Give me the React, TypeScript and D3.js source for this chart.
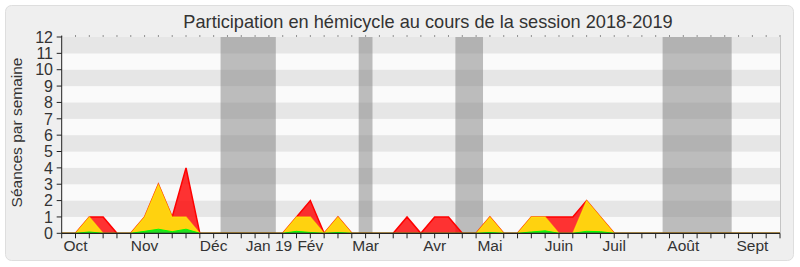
import React from "react";
import * as d3 from "d3";

const weeks: number[] = d3.range(0, 53);
// total sessions per week (red)
const presence: number[] = [
  0, 0, 1, 1, 0, 0, 1, 3, 1, 4, 0, 0, 0, 0, 0, 0, 0, 1, 2, 0, 1, 0, 0, 0, 0, 1,
  0, 1, 1, 0, 0, 1, 0, 0, 1, 1, 1, 1, 2, 1, 0, 0, 0, 0, 0, 0, 0, 0, 0, 0, 0, 0, 0,
];
// participations (yellow)
const participation: number[] = [
  0, 0, 1, 0, 0, 0, 1, 3, 1, 1, 0, 0, 0, 0, 0, 0, 0, 1, 1, 0, 1, 0, 0, 0, 0, 0,
  0, 0, 0, 0, 0, 1, 0, 0, 1, 1, 0, 0, 2, 1, 0, 0, 0, 0, 0, 0, 0, 0, 0, 0, 0, 0, 0,
];
// interventions (green)
const interventions: number[] = [
  0, 0, 0.08, 0, 0, 0, 0.12, 0.25, 0.1, 0.25, 0, 0, 0, 0, 0, 0, 0, 0.12, 0.05, 0,
  0.05, 0, 0, 0, 0, 0, 0, 0, 0, 0, 0, 0.05, 0, 0, 0.08, 0.15, 0, 0, 0.12, 0.1, 0,
  0, 0, 0, 0, 0, 0, 0, 0, 0, 0, 0, 0,
];
const holidays: [number, number][] = [
  [11.5, 15.5],
  [21.5, 22.5],
  [28.5, 30.5],
  [43.5, 48.5],
];
const monthLabels: string[] = ["Oct", "Nov", "Déc", "Jan 19", "Fév", "Mar", "Avr", "Mai", "Juin", "Juil", "Août", "Sept"];
const monthWeeks: number[] = [1, 6, 11, 15, 18, 22, 27, 31, 36, 40, 45, 50];
const yTicks: number[] = d3.range(0, 13);
const title = "Participation en hémicycle au cours de la session 2018-2019";
const yTitle = "Séances par semaine";

export default function App() {
  const W = 800;
  const H = 267;
  const x = d3.scaleLinear().domain([0, 52]).range([61.7, 780]);
  const y = d3.scaleLinear().domain([0, 12]).range([233.3, 37]);
  const font = "'Liberation Sans', Arial, sans-serif";

  const area = (vals: number[]) =>
    d3
      .area<number>()
      .x((d) => x(d))
      .y0(y(0))
      .y1((d) => y(vals[d]))(weeks) || "";
  const line = (vals: number[]) =>
    d3
      .line<number>()
      .x((d) => x(d))
      .y((d) => y(vals[d]))(weeks) || "";

  const stripes = d3.range(0, 12);

  return (
    <svg
      width={W}
      height={H}
      style={{ position: "absolute", left: 0, top: 0, background: "#fff" }}
      fontFamily={font}
    >
      <rect x={5.5} y={5.5} width={788} height={255} rx={6} fill="#efefef" stroke="#dedede" />
      <text x={428} y={27.5} textAnchor="middle" fontSize={18.2} fill="#333">
        {title}
      </text>
      {/* stripes */}
      {stripes.map((i) => (
        <rect
          key={"s" + i}
          x={x(0)}
          width={x(52) - x(0)}
          y={y(i + 1)}
          height={y(i) - y(i + 1)}
          fill={i % 2 === 1 ? "#e6e6e6" : "#fafafa"}
        />
      ))}
      {/* holidays */}
      {holidays.map(([a, b], i) => (
        <rect key={"h" + i} x={x(a)} width={x(b) - x(a)} y={y(12)} height={y(0) - y(12)} fill="#7a7a7a" opacity={0.48} />
      ))}
      {/* right border */}
      <line x1={780.5} x2={780.5} y1={y(12)} y2={y(0)} stroke="#c4c4c4" />
      {/* data */}
      <path d={area(presence)} fill="#ff0000" fillOpacity={0.8} />
      <path d={line(presence)} fill="none" stroke="#ff0000" strokeWidth={1.5} />
      <path d={area(participation)} fill="#ffd20f" />
      <path d={line(participation)} fill="none" stroke="#ffff00" strokeOpacity={0.5} strokeWidth={1.2} />
      <path d={area(interventions)} fill="#22dd22" />
      <path d={line(interventions)} fill="none" stroke="#00ff00" strokeWidth={1} />
      {/* axes */}
      <line x1={x(0)} x2={x(52)} y1={y(0)} y2={y(0)} stroke="#222" strokeWidth={1.3} />
      <line x1={x(0)} x2={x(0)} y1={y(12) - 1} y2={y(0)} stroke="#222" strokeWidth={1} />
      {weeks.map((w) => (
        <g key={"t" + w}>
          <line x1={x(w)} x2={x(w)} y1={y(0)} y2={y(0) + 5} stroke="#222" />
          <rect x={x(w) - 0.5} y={35.5} width={1} height={1} fill="#333" />
        </g>
      ))}
      {yTicks.map((t) => (
        <g key={"y" + t}>
          <line x1={x(0) - 5} x2={x(0)} y1={y(t)} y2={y(t)} stroke="#222" />
          <text x={53} y={y(t)} dy="0.36em" textAnchor="end" fontSize={16} fill="#333">
            {t}
          </text>
        </g>
      ))}
      {monthLabels.map((m, i) => (
        <text key={m} x={x(monthWeeks[i])} y={251} textAnchor="middle" fontSize={15.5} fill="#333">
          {m}
        </text>
      ))}
      <text
        transform={`translate(22,132.5) rotate(-90)`}
        textAnchor="middle"
        fontSize={15.5}
        fill="#333"
      >
        {yTitle}
      </text>
    </svg>
  );
}
